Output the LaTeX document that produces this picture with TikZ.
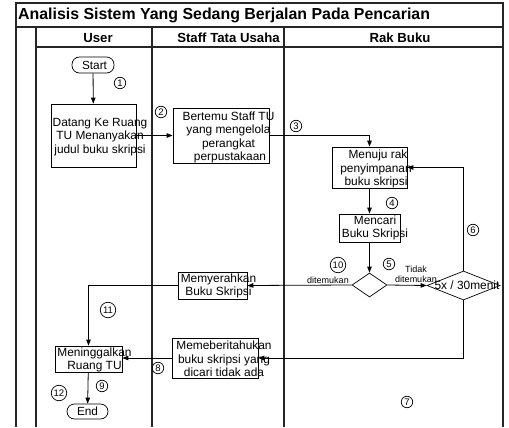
\documentclass[tikz,border=0pt]{standalone}
\usepackage{fontspec}
\setmainfont{Liberation Sans}
\usetikzlibrary{shapes.geometric,arrows.meta}
\begin{document}
\begin{tikzpicture}[x=1pt,y=-1pt,
  frame/.style={line width=1.1pt,draw=black!85},
  stepbox/.style={draw,line width=0.7pt,rectangle,inner sep=0pt},
  term/.style={draw,line width=0.7pt,rectangle,rounded corners=7.5pt,inner sep=0pt,font=\fontsize{11.8}{13}\selectfont},
  decide/.style={draw,line width=0.7pt,diamond,inner sep=0pt},
  btext/.style={align=center,font=\fontsize{11.9}{13.5}\selectfont,inner sep=0pt},
  small/.style={font=\fontsize{9}{10.5}\selectfont,align=center,inner sep=0pt},
  num/.style={draw,circle,line width=0.7pt,inner sep=0pt,minimum size=11.5pt,font=\fontsize{9.5}{10}\selectfont},
  numb/.style={num,minimum size=15.5pt},
  head/.style={font=\bfseries\fontsize{13.2}{14}\selectfont,inner sep=0pt},
  flow/.style={line width=0.8pt,-{Triangle[length=6pt,width=4.5pt]}}]
\useasboundingbox (0,0) rectangle (509,428);

% swimlane frame
\draw[frame] (16,427) -- (16,3) -- (503,3) -- (503,427);
\draw[frame] (16,27) -- (503,27);
\draw[frame] (36,47) -- (503,47);
\draw[frame] (36,27) -- (36,427);
\draw[frame] (152,27) -- (152,427);
\draw[frame] (284,27) -- (284,427);

\node[anchor=west,font=\bfseries\fontsize{15.9}{17}\selectfont,inner sep=0pt] (title) at (18,15.5) {Analisis Sistem Yang Sedang Berjalan Pada Pencarian};
\node[head] (hUser) at (98,38) {User};
\node[head] (hStaff) at (228.5,38) {Staff Tata Usaha};
\node[head] (hRak) at (400,38) {Rak Buku};

% process steps
\node[term,minimum width=42pt,minimum height=16pt] (start) at (93,65) {\hspace{3pt}Start};
\node[stepbox,minimum width=85pt,minimum height=63pt] (datang) at (93.5,135.5) {};
\node[btext] (tdatang) at (100,137) {Datang Ke Ruang\\TU Menanyakan\\judul buku skripsi};
\node[stepbox,minimum width=96pt,minimum height=55pt] (bertemu) at (221,135.5) {};
\node[btext] (tbertemu) at (228.5,137.5) {Bertemu Staff TU\\yang mengelola\\perangkat\\\hspace{3pt}perpustakaan};
\node[stepbox,minimum width=75pt,minimum height=41pt] (menuju) at (369.5,167.5) {};
\node[btext] (tmenuju) at (376,169) {\hspace{4pt}Menuju rak\\penyimpanan\\buku skripsi};
\node[stepbox,minimum width=61pt,minimum height=28pt] (mencari) at (369.5,228) {};
\node[btext] (tmencari) at (375,228) {Mencari\\Buku Skripsi};
\node[decide,minimum width=35pt,minimum height=24pt] (dec) at (369.5,285) {};
\node[decide,minimum width=73pt,minimum height=29pt] (limit) at (463.5,285.5) {};
\node[btext] (tlimit) at (467,285.5) {5x / 30menit};
\node[stepbox,minimum width=69pt,minimum height=27pt] (serah) at (212.5,285.5) {};
\node[btext] (tserah) at (218.5,286) {Memyerahkan\\Buku Skripsi};
\node[stepbox,minimum width=86pt,minimum height=40pt] (beri) at (215,358) {};
\node[btext] (tberi) at (224,359) {Memeberitahukan\\buku skripsi yang\\dicari tidak ada};
\node[stepbox,minimum width=67pt,minimum height=26pt] (tinggal) at (88.5,359) {};
\node[btext] (ttinggal) at (94.5,360) {Meninggalkan\\Ruang TU};
\node[term,minimum width=41pt,minimum height=15pt] (end) at (87.5,411.5) {End};

% decision labels
\node[small] (lfound) at (328,280) {ditemukan};
\node[small] (lnotfound) at (416,274.5) {Tidak\\ditemukan};

% connectors
\draw[flow] (start) -- (datang);
\draw[flow] (datang.east) -- (bertemu.west);
\draw[flow] (bertemu.east) -| (menuju.north);
\draw[flow] (menuju) -- (mencari);
\draw[flow] (mencari) -- (dec);
\draw[flow] (dec.east) -- (limit.west);
\draw[flow] (limit.north) |- (menuju.east);
\draw[flow] (limit.south) |- (beri.east);
\draw[flow] (beri.west) -- (beri.west -| tinggal.east);
\draw[flow] (dec.west) -- (serah.east);
\draw[flow] (serah.west) -| (tinggal.north);
\draw[flow] (tinggal) -- (end);

% step numbers
\node[num] (n1) at (120,83) {1};
\node[num] (n2) at (161,112) {2};
\node[num] (n3) at (296,126) {3};
\node[num] (n4) at (392,203) {4};
\node[num] (n5) at (389,264) {5};
\node[num] (n6) at (473,230) {6};
\node[num] (n7) at (407,402) {7};
\node[num] (n8) at (158,368) {8};
\node[num] (n9) at (102,386) {9};
\node[numb] (n10) at (338,265) {10};
\node[numb] (n11) at (108,310) {11};
\node[numb] (n12) at (59,393) {12};
\end{tikzpicture}
\end{document}
